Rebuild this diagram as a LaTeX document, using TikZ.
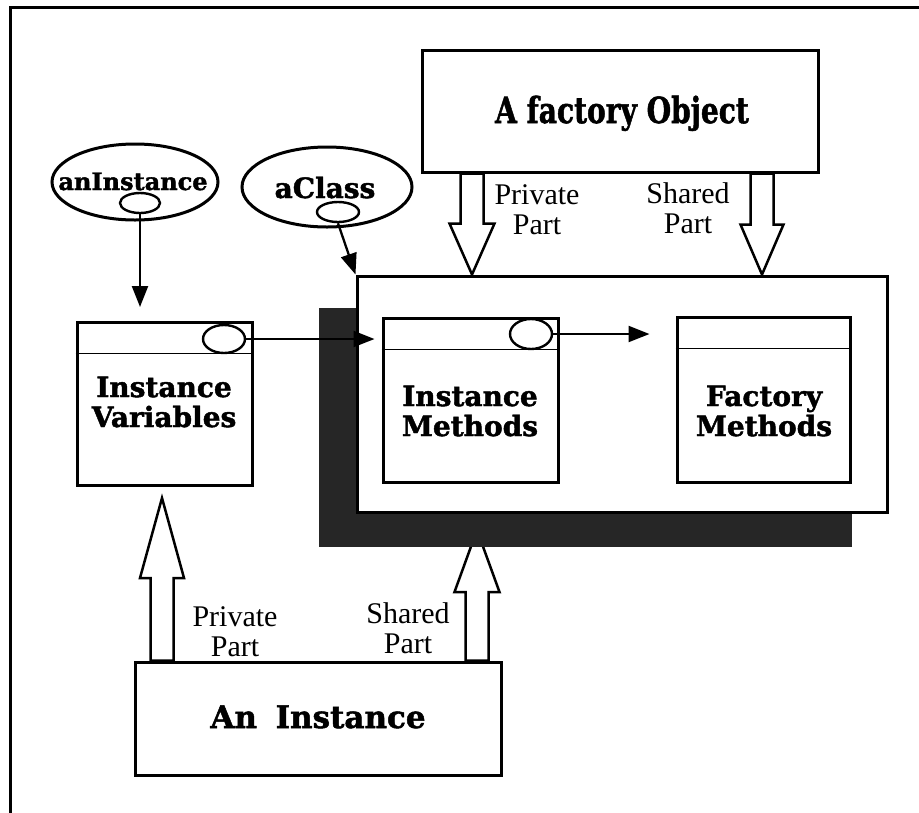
\documentclass[tikz,border=0pt]{standalone}
\usepackage{fontspec}
\usetikzlibrary{arrows.meta,calc,shapes.geometric}
\newfontfamily\heavyfont{DejaVu Serif}[BoldFeatures={FakeBold=1.6}]
\newfontfamily\lightfont{Liberation Serif}
\tikzset{
  frameline/.style={line width=3pt},
  box/.style={draw, rectangle, line width=3pt, fill=white, inner sep=0pt},
  oval/.style={draw, ellipse, line width=3pt, fill=white, inner sep=0pt},
  port/.style={draw, ellipse, line width=2.4pt, fill=white, inner sep=0pt},
  sepline/.style={line width=1pt},
  arr/.style={line width=2.3pt, -{Triangle[length=21pt,width=16pt]}},
  hollow/.style={line width=2.5pt, fill=white, line join=miter},
  shade/.style={rectangle, fill=black!85, inner sep=0pt},
  heavy/.style={font=\heavyfont\bfseries\fontsize{28}{30}\selectfont, align=center, inner sep=0pt},
  light/.style={font=\lightfont\fontsize{30}{30}\selectfont, align=center, inner sep=0pt},
}
\newcommand\harrowdown[5]{\draw[hollow] let \p1=(#1), \p2=(#2) in
  (\x1-#3,\y1) -- (\x1-#3,\y2+#5) -- (\x1-#4,\y2+#5) -- (\x2,\y2) --
  (\x1+#4,\y2+#5) -- (\x1+#3,\y2+#5) -- (\x1+#3,\y1) -- cycle;}
\newcommand\harrowup[5]{\draw[hollow] let \p1=(#1), \p2=(#2) in
  (\x1-#3,\y1) -- (\x1-#3,\y2-#5) -- (\x1-#4,\y2-#5) -- (\x2,\y2) --
  (\x1+#4,\y2-#5) -- (\x1+#3,\y2-#5) -- (\x1+#3,\y1) -- cycle;}
\begin{document}
\begin{tikzpicture}[x=1pt,y=-1pt]
\useasboundingbox (0,0) rectangle (919,812);
\fill[white] (0,0) rectangle (919,812);
\draw[frameline] (10,830) -- (10,7) -- (930,7);

% factory object
\node[box, minimum width=396pt, minimum height=122pt] (fo) at (620,111) {};
\node[font=\heavyfont\bfseries\fontsize{36}{40}\selectfont, anchor=base, inner sep=0pt] (fot) at (622,123) {\scalebox{0.78}[1]{A factory Object}};

% an instance
\node[box, minimum width=366pt, minimum height=113pt] (inst) at (318,718.5) {};
\node[font=\heavyfont\bfseries\fontsize{31}{34}\selectfont, anchor=base, inner sep=0pt] (instt) at (318,728) {An\hspace{0.6em}Instance};

% shared part arrow of the instance (tip hidden behind the shadow)
\coordinate (bra) at ($(inst.north west)+(343.5,0)$);
\coordinate (brt) at (bra |- 0,530);
\harrowup{bra}{brt}{11.5pt}{22.5pt}{62pt}

% class object: shadow and box
\node[shade, minimum width=533pt, minimum height=239pt] (shadow) at (585.5,427.5) {};
\node[box, minimum width=530pt, minimum height=236pt] (cls) at (622,394) {};

% factory arrows
\coordinate (fla) at ($(fo.south west)+(51.5,0)$);
\harrowdown{fla}{fla |- cls.north}{11.5pt}{22.5pt}{51pt}
\coordinate (fra) at ($(fo.south west)+(341.5,0)$);
\harrowdown{fra}{fra |- cls.north}{11.5pt}{21.5pt}{50pt}

% method boxes
\node[box, minimum width=175pt, minimum height=164pt] (im) at (470.5,400) {};
\draw[sepline] (im.west |- 0,349) -- (im.east |- 0,349);
\node[box, minimum width=173pt, minimum height=165pt] (fm) at (763.5,399.5) {};
\draw[sepline] (fm.west |- 0,348) -- (fm.east |- 0,348);
\node[port, minimum width=42pt, minimum height=30pt] (imp) at (531,334) {};

% instance variables
\node[box, minimum width=175pt, minimum height=163pt] (iv) at (164.5,403.5) {};
\draw[sepline] (iv.west |- 0,353) -- (iv.east |- 0,353);
\node[port, minimum width=42pt, minimum height=28pt] (ivp) at (224,339) {};

% ovals
\node[oval, minimum width=166pt, minimum height=76pt] (ai) at (135,182) {};
\node[port, minimum width=40pt, minimum height=20pt] (aip) at (140,203) {};
\node[font=\heavyfont\bfseries\fontsize{24}{28}\selectfont, anchor=base, inner sep=0pt] (ait) at (133,190) {anInstance};
\node[oval, minimum width=170pt, minimum height=80pt] (ac) at (327,187) {};
\node[port, minimum width=42pt, minimum height=20pt] (acp) at (338,212) {};
\node[font=\heavyfont\bfseries\fontsize{28}{30}\selectfont, anchor=base, inner sep=0pt] (act) at (325,198) {aClass};

% box labels
\node[heavy] (ivt) at (164,402) {Instance\\Variables};
\node[heavy] (imt) at (470,411) {Instance\\Methods};
\node[heavy] (fmt) at (764,411) {Factory\\Methods};

% private part arrow of the instance
\coordinate (bla) at ($(inst.north west)+(28.5,0)$);
\coordinate (blt) at (bla |- 0,498);
\harrowup{bla}{blt}{11.5pt}{22pt}{80pt}

% connectors
\draw[arr] (aip.south) -- (aip.south |- 0,307);
\draw[arr] (acp.south) -- (cls.north west);
\draw[arr] (ivp.east) -- ($(im.west |- ivp.east)+(-7,0)$);
\draw[arr] (imp.east) -- ($(fm.west |- imp.east)+(-26,0)$);

% arrow labels
\node[light] (l1) at (537,210) {Private\\Part};
\node[light] (l2) at (688,208) {Shared\\Part};
\node[light] (l3) at (235,632) {Private\\Part};
\node[light] (l4) at (408,628) {Shared\\Part};
\end{tikzpicture}
\end{document}
